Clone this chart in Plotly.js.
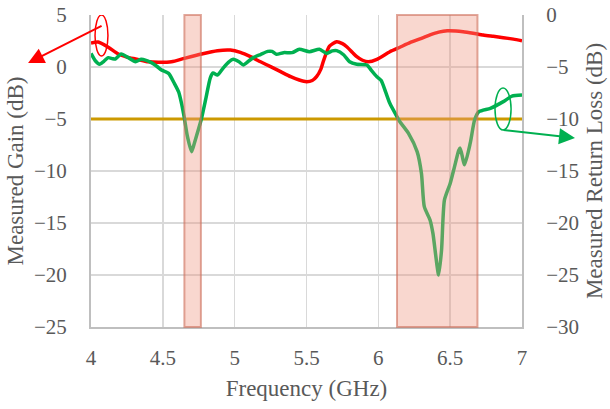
<!DOCTYPE html>
<html>
<head>
<meta charset="utf-8">
<script src="https://cdn.plot.ly/plotly-3.0.1.min.js"></script>
<style>html,body{margin:0;padding:0;background:#fff;}#chart{width:610px;height:409px;}</style>
</head>
<body>
<div id="chart"></div>
<script>
// Measured gain (left axis, dB)
const gainFreq = [4.00,4.05,4.12,4.19,4.25,4.31,4.40,4.47,4.56,4.65,4.77,4.88,4.97,5.04,5.11,5.18,5.25,5.32,5.39,5.45,5.50,5.54,5.57,5.60,5.62,5.66,5.71,5.75,5.78,5.82,5.85,5.89,5.93,5.99,6.08,6.15,6.22,6.30,6.36,6.42,6.48,6.54,6.59,6.66,6.73,6.80,6.87,6.94,7.00];
const gainDb = [2.3,2.4,1.9,1.25,0.95,0.77,0.5,0.45,0.5,0.83,1.25,1.57,1.63,1.4,0.99,0.5,0.03,-0.45,-0.93,-1.25,-1.41,-1.3,-0.93,-0.2,0.67,2.0,2.43,2.25,1.95,1.4,0.99,0.65,0.51,0.74,1.47,1.9,2.34,2.75,3.08,3.35,3.49,3.47,3.4,3.25,3.08,2.95,2.82,2.68,2.53];

// Measured return loss (right axis, dB)
const rlFreq = [4.00,4.03,4.06,4.09,4.12,4.15,4.17,4.21,4.26,4.31,4.35,4.42,4.46,4.49,4.54,4.58,4.61,4.63,4.65,4.67,4.70,4.72,4.75,4.77,4.80,4.83,4.85,4.88,4.92,4.96,4.99,5.03,5.06,5.10,5.13,5.18,5.23,5.26,5.29,5.34,5.40,5.45,5.52,5.59,5.64,5.68,5.71,5.76,5.80,5.85,5.92,5.95,5.99,6.02,6.05,6.08,6.13,6.15,6.21,6.27,6.30,6.32,6.36,6.38,6.42,6.44,6.46,6.50,6.53,6.56,6.57,6.60,6.64,6.67,6.70,6.78,6.87,6.93,7.00];
const rlDb = [-3.69,-4.4,-4.74,-4.45,-4.1,-4.2,-4.23,-3.75,-4.1,-4.49,-4.26,-4.58,-4.95,-5.29,-5.61,-6.57,-7.4,-8.5,-9.93,-11.6,-13.14,-12.3,-10.9,-9.9,-8.0,-6.06,-5.58,-5.77,-5.1,-4.5,-4.26,-4.5,-4.8,-4.4,-4.1,-3.8,-3.5,-3.5,-3.78,-3.62,-3.62,-3.3,-3.53,-3.3,-3.69,-3.45,-3.43,-3.85,-4.49,-4.74,-4.81,-5.29,-5.93,-6.3,-7.37,-8.49,-9.78,-10.26,-11.38,-13.14,-15.22,-18.43,-19.71,-21.0,-25.0,-22.6,-17.8,-16.2,-14.6,-13.0,-12.8,-14.4,-12.3,-10.1,-9.3,-8.97,-8.33,-7.8,-7.7];

// Reference level (left axis) and highlighted bands (GHz)
const refLevel = -5;
const bandStart = [4.65, 6.13];
const bandEnd = [4.765, 6.69];

const xRange = [4, 7];
const gainRange = [-25, 5];
const rlRange = [-30, 0];

const FONT = 'Liberation Serif, Times New Roman, serif';
const TXT = '#595959';
const TICK = 21;
const TITLE = 23;

const traces = [
  {x: xRange, y: [refLevel, refLevel], mode: 'lines', line: {color: '#CC9900', width: 3}, yaxis: 'y', hoverinfo: 'skip'},
  {x: rlFreq, y: rlDb, mode: 'lines', line: {color: '#00B050', width: 3.5, shape: 'spline', smoothing: 0.6}, yaxis: 'y2'},
  {x: gainFreq, y: gainDb, mode: 'lines', line: {color: '#FF0000', width: 3.5, shape: 'spline', smoothing: 0.6}, yaxis: 'y'}
];

const shapes = bandStart.map((s, i) => ({
  type: 'rect', xref: 'x', yref: 'paper', x0: s, x1: bandEnd[i], y0: 0, y1: 1,
  fillcolor: 'rgba(238,150,130,0.38)', line: {color: 'rgba(205,110,90,0.6)', width: 2}, layer: 'above'
}));
shapes.push({type: 'circle', xref: 'x', yref: 'y', x0: 4.028, x1: 4.118, y0: 1.06, y1: 5.0, line: {color: '#FF0000', width: 1.5}});
shapes.push({type: 'circle', xref: 'x', yref: 'y2', x0: 6.812, x1: 6.924, y0: -11.06, y1: -7.02, line: {color: '#00B050', width: 1.5}});

const annotations = [
  {xref: 'paper', yref: 'paper', x: -0.146, y: 0.846, ax: 75, ay: -38, text: '', showarrow: true,
   arrowhead: 2, arrowsize: 1.6, arrowwidth: 2, arrowcolor: '#FF0000', standoff: 0},
  {xref: 'paper', yref: 'paper', x: 1.123, y: 0.606, ax: -73, ay: -8, text: '', showarrow: true,
   arrowhead: 2, arrowsize: 1.6, arrowwidth: 2, arrowcolor: '#00B050', standoff: 0}
];

const layout = {
  width: 610, height: 409,
  margin: {l: 91, r: 88, t: 15, b: 82},
  paper_bgcolor: '#fff', plot_bgcolor: '#fff',
  showlegend: false,
  font: {family: FONT, color: TXT, size: TICK},
  xaxis: {
    range: xRange, dtick: 0.5, tick0: 4, showgrid: true, gridcolor: '#d9d9d9', gridwidth: 1.5,
    showline: true, linecolor: '#bfbfbf', linewidth: 2, zeroline: false,
    ticks: '', ticklabelstandoff: 11, tickfont: {family: FONT, color: TXT, size: TICK},
    title: {text: 'Frequency (GHz)', font: {family: FONT, color: TXT, size: TITLE}, standoff: 11},
    automargin: false
  },
  yaxis: {
    range: gainRange, dtick: 5, showgrid: true, gridcolor: '#d9d9d9', gridwidth: 1.5,
    showline: true, linecolor: '#bfbfbf', linewidth: 2, zeroline: false,
    ticks: '', ticklabelstandoff: 18, tickfont: {family: FONT, color: TXT, size: TICK},
    title: {text: 'Measured Gain (dB)', font: {family: FONT, color: TXT, size: TITLE}, standoff: 4},
    automargin: false
  },
  yaxis2: {
    range: rlRange, dtick: 5, overlaying: 'y', side: 'right', showgrid: false,
    showline: true, linecolor: '#bfbfbf', linewidth: 2, zeroline: false,
    ticks: '', ticklabelstandoff: 18, tickfont: {family: FONT, color: TXT, size: TICK},
    title: {text: 'Measured Return Loss (dB)', font: {family: FONT, color: TXT, size: TITLE}, standoff: 8},
    automargin: false
  },
  shapes: shapes,
  annotations: annotations
};

Plotly.newPlot('chart', traces, layout, {displayModeBar: false, staticPlot: true});
</script>
</body>
</html>
